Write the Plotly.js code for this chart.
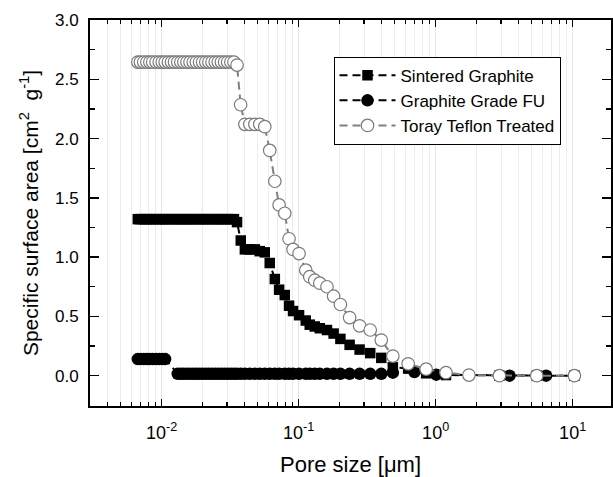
<!DOCTYPE html>
<html>
<head>
<meta charset="utf-8">
<script src="https://cdn.plot.ly/plotly-3.0.1.min.js"></script>
<style>html,body{margin:0;padding:0;background:#fff;}#chart{width:613px;height:477px;}</style>
</head>
<body>
<div id="chart"></div>
<script>
// Pore size [µm] and specific surface area [cm^2 g^-1]
const sinteredX = [0.0067,0.0070,0.0074,0.0078,0.0082,0.0086,0.0091,0.0096,0.0101,0.0106,0.0112,0.0118,0.0124,0.0131,0.0138,0.0145,0.0153,0.0161,0.0170,0.0179,0.0189,0.0199,0.0210,0.0221,0.0233,0.0246,0.0259,0.0273,0.0288,0.0303,0.0320,0.0337,0.0355,
  0.0378,0.0405,0.044,0.0479,0.052,0.0566,0.0615,0.067,0.072,0.0792,0.0851,0.091,0.1007,0.1127,0.1205,0.131,0.1426,0.161,0.180,0.2017,0.2355,0.2786,0.333,0.401,0.487,0.63,0.853,1.19,2.92,5.47,10.3];
const sinteredY = [1.32,1.32,1.32,1.32,1.32,1.32,1.32,1.32,1.32,1.32,1.32,1.32,1.32,1.32,1.32,1.32,1.32,1.32,1.32,1.32,1.32,1.32,1.32,1.32,1.32,1.32,1.32,1.32,1.32,1.32,1.32,1.32,1.295,
  1.14,1.065,1.065,1.065,1.05,1.04,0.95,0.815,0.725,0.68,0.59,0.545,0.51,0.465,0.43,0.415,0.40,0.385,0.355,0.31,0.26,0.22,0.19,0.15,0.07,0.06,0.02,0.005,0.0,0.0,0.0];

const fuX = [0.0067,0.0070,0.0074,0.0078,0.0082,0.0086,0.0091,0.0096,0.0101,0.0106,
  0.0131,0.0138,0.0145,0.0153,0.0161,0.0170,0.0179,0.0189,0.0199,0.0210,0.0221,0.0233,0.0246,0.0259,0.0273,0.0288,0.0303,0.0320,0.0337,0.0355,
  0.0378,0.0405,0.044,0.0479,0.052,0.0566,0.0615,0.067,0.072,0.0792,0.0851,0.091,0.1007,0.1127,0.1205,0.131,0.1426,0.161,0.180,0.2017,0.2355,0.2786,0.333,0.401,0.487,0.70,1.01,3.46,6.4,10.3];
const fuY = [0.14,0.14,0.14,0.14,0.14,0.14,0.14,0.14,0.14,0.14,
  0.015,0.015,0.015,0.015,0.015,0.015,0.015,0.015,0.015,0.015,0.015,0.015,0.015,0.015,0.015,0.015,0.015,0.015,0.015,0.015,
  0.015,0.015,0.015,0.015,0.015,0.015,0.015,0.015,0.015,0.015,0.015,0.015,0.015,0.015,0.015,0.015,0.015,0.015,0.015,0.015,0.015,0.015,0.015,0.015,0.025,0.03,0.008,0.0,0.0,0.0];

const torayX = [0.0067,0.0070,0.0074,0.0078,0.0082,0.0086,0.0091,0.0096,0.0101,0.0106,0.0112,0.0118,0.0124,0.0131,0.0138,0.0145,0.0153,0.0161,0.0170,0.0179,0.0189,0.0199,0.0210,0.0221,0.0233,0.0246,0.0259,0.0273,0.0288,0.0303,0.0320,0.0337,0.0355,
  0.0377,0.0405,0.044,0.0479,0.052,0.0566,0.0615,0.067,0.072,0.0792,0.0851,0.091,0.1007,0.1127,0.1205,0.131,0.1426,0.161,0.180,0.2017,0.2355,0.2786,0.333,0.401,0.487,0.63,0.853,1.19,1.75,2.92,5.47,10.3];
const torayY = [2.645,2.645,2.645,2.645,2.645,2.645,2.645,2.645,2.645,2.645,2.645,2.645,2.645,2.645,2.645,2.645,2.645,2.645,2.645,2.645,2.645,2.645,2.645,2.645,2.645,2.645,2.645,2.645,2.645,2.645,2.645,2.645,2.62,
  2.285,2.12,2.12,2.12,2.12,2.10,1.90,1.64,1.44,1.37,1.155,1.065,1.03,0.89,0.835,0.805,0.78,0.75,0.67,0.60,0.49,0.42,0.385,0.30,0.165,0.10,0.055,0.025,0.005,0.0,0.0,0.0];

const seriesNames = ['Sintered Graphite','Graphite Grade FU','Toray Teflon Treated'];
const xMajorVals = [0.01,0.1,1,10];
const xMajorText = ['10<sup>-2</sup>','10<sup>-1</sup>','10<sup>0</sup>','10<sup>1</sup>'];
const xMinorVals = [0.004,0.005,0.006,0.007,0.008,0.009,0.02,0.03,0.04,0.05,0.06,0.07,0.08,0.09,0.2,0.3,0.4,0.5,0.6,0.7,0.8,0.9,2,3,4,5,6,7,8,9,20];

const font = 'Liberation Sans, Arial, sans-serif';
const traces = [
  {x: sinteredX, y: sinteredY, name: seriesNames[0], type: 'scatter', mode: 'lines+markers',
   line: {color: '#000', width: 2, dash: '8px,5px'},
   marker: {symbol: 'square', size: 10.5, color: '#000', line: {width: 0}}},
  {x: fuX, y: fuY, name: seriesNames[1], type: 'scatter', mode: 'lines+markers',
   line: {color: '#000', width: 2, dash: '8px,5px'},
   marker: {symbol: 'circle', size: 12.5, color: '#000', line: {width: 0}}},
  {x: torayX, y: torayY, name: seriesNames[2], type: 'scatter', mode: 'lines+markers',
   line: {color: '#808080', width: 2, dash: '8px,5px'},
   marker: {symbol: 'circle', size: 12.5, color: '#fff', line: {color: '#7a7a7a', width: 1.2}}}
];

const layout = {
  width: 613, height: 477,
  margin: {l: 90, r: 2, t: 20, b: 71},
  paper_bgcolor: '#fff', plot_bgcolor: '#fff',
  font: {family: font, color: '#000'},
  showlegend: true,
  legend: {x: 0.4674, y: 0.905, xanchor: 'left', yanchor: 'top',
    bordercolor: '#000', borderwidth: 1, bgcolor: '#fff',
    font: {family: font, size: 17, color: '#000'}, tracegroupgap: 0, itemwidth: 56},
  xaxis: {
    type: 'log', range: [-2.523, 1.28],
    tickmode: 'array', tickvals: xMajorVals, ticktext: xMajorText,
    ticks: 'inside', ticklen: 7, tickwidth: 1.5, tickcolor: '#000',
    showline: true, linecolor: '#000', linewidth: 2, mirror: 'ticks',
    showgrid: true, gridcolor: '#e4e4e4', gridwidth: 1, zeroline: false,
    tickfont: {family: font, size: 18, color: '#000'},
    ticklabelstandoff: 9,
    minor: {tickmode: 'array', tickvals: xMinorVals, ticks: 'inside', ticklen: 4, tickwidth: 1.2, tickcolor: '#000', showgrid: true, gridcolor: '#ececec', gridwidth: 1},
    title: {text: 'Pore size [\u03bcm]', font: {family: font, size: 22, color: '#000'}, standoff: 17}
  },
  yaxis: {
    range: [-0.256, 3.0],
    tickmode: 'linear', tick0: 0, dtick: 0.5, tickformat: '.1f',
    ticks: 'inside', ticklen: 9, tickwidth: 1.5, tickcolor: '#000',
    showline: true, linecolor: '#000', linewidth: 2, mirror: 'ticks',
    showgrid: false, zeroline: false,
    tickfont: {family: font, size: 17, color: '#000'},
    ticklabelstandoff: 6,
    minor: {dtick: 0.25, tick0: 0, ticks: 'inside', ticklen: 5, tickwidth: 1.2, tickcolor: '#000', showgrid: false},
    title: {text: 'Specific surface area [cm<sup>2</sup>  g<sup>-1</sup>]', font: {family: font, size: 21, color: '#000'}, standoff: 11}
  }
};

Plotly.newPlot('chart', traces, layout, {displayModeBar: false, staticPlot: true});
</script>
</body>
</html>
